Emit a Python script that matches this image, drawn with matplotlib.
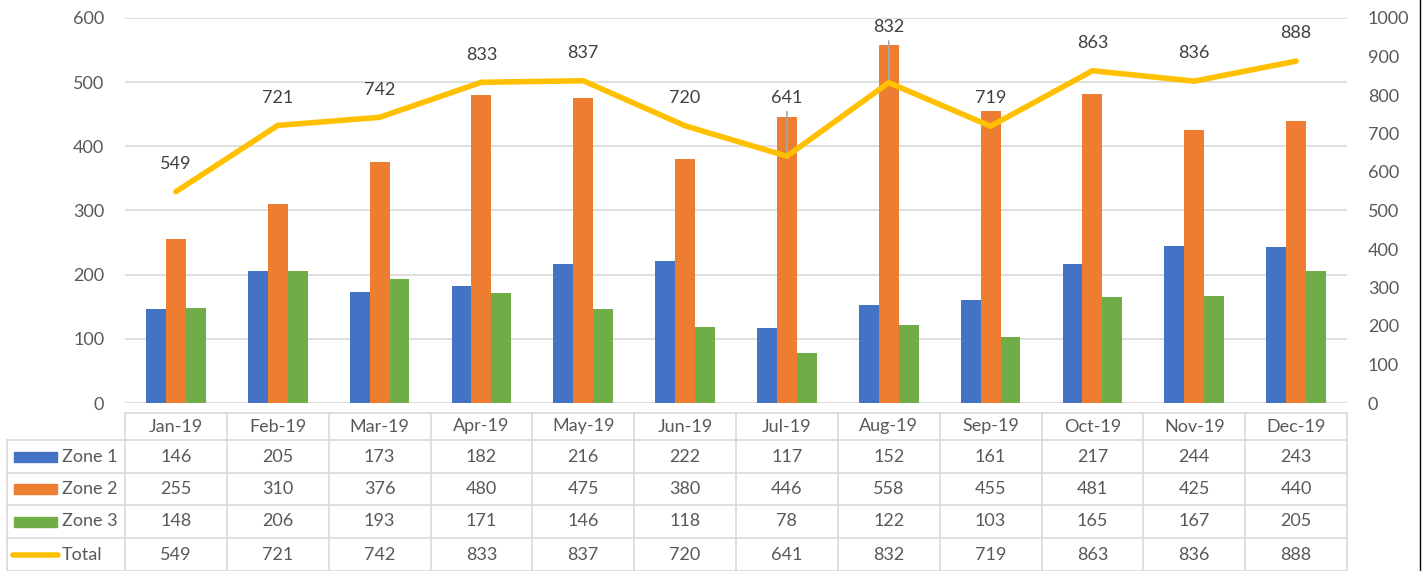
import numpy as np
import matplotlib.pyplot as plt
from matplotlib.lines import Line2D

months = ['Jan-19', 'Feb-19', 'Mar-19', 'Apr-19', 'May-19', 'Jun-19',
          'Jul-19', 'Aug-19', 'Sep-19', 'Oct-19', 'Nov-19', 'Dec-19']
zone1 = [146, 205, 173, 182, 216, 222, 117, 152, 161, 217, 244, 243]
zone2 = [255, 310, 376, 480, 475, 380, 446, 558, 455, 481, 425, 440]
zone3 = [148, 206, 193, 171, 146, 118, 78, 122, 103, 165, 167, 205]
total = [549, 721, 742, 833, 837, 720, 641, 832, 719, 863, 836, 888]

c_blue = '#4472C4'
c_orange = '#ED7D31'
c_green = '#70AD47'
c_gold = '#FFC000'
txt = '#595959'
grid = '#D9D9D9'

plt.rcParams['font.family'] = ['Lato', 'DejaVu Sans']

W, H = 1423, 571
fig = plt.figure(figsize=(W / 100, H / 100), dpi=100)

# plot area in pixels
px_l, px_r, px_t, px_b = 125, 1347, 18, 403
ax = fig.add_axes([px_l / W, 1 - px_b / H, (px_r - px_l) / W, (px_b - px_t) / H])
ax2 = ax.twinx()

x = np.arange(len(months))
bw = 0.195
ax.bar(x - bw, zone1, bw, color=c_blue, zorder=3)
ax.bar(x, zone2, bw, color=c_orange, zorder=3)
ax.bar(x + bw, zone3, bw, color=c_green, zorder=3)

ax.set_xlim(-0.5, len(months) - 0.5)
ax.set_ylim(0, 600)
ax.set_yticks(range(0, 601, 100))
ax.yaxis.grid(True, color=grid, lw=1.2, zorder=0)
ax.set_axisbelow(True)
ax.set_xticks([])
ax.tick_params(axis='y', length=0, pad=15, labelsize=13, labelcolor=txt)

ax2.plot(x, total, color=c_gold, lw=4, solid_capstyle='round', solid_joinstyle='miter', zorder=5)
ax2.set_ylim(0, 1000)
ax2.set_yticks(range(0, 1001, 100))
ax2.tick_params(axis='y', length=0, pad=15, labelsize=13, labelcolor=txt)

for a in (ax, ax2):
    for s in a.spines.values():
        s.set_visible(False)

# data labels (Jul and Aug pulled up with leader lines)
lift = {6: 42, 7: 40}
for i, v in enumerate(total):
    dy = lift.get(i, 20)
    ax2.annotate(str(v), (i, v), xytext=(0, dy), textcoords='offset points',
                 ha='center', va='center', fontsize=13, color='#404040', zorder=6)
    if i in lift:
        ax2.annotate('', (i, v), xytext=(0, dy - 10), textcoords='offset points',
                     arrowprops=dict(arrowstyle='-', color='#A6A6A6', lw=1.2,
                                     shrinkA=0, shrinkB=0), zorder=4)

# data table drawn in pixel coordinates
tb = fig.add_axes([0, 0, 1, 1], zorder=-1)
tb.set_xlim(0, W)
tb.set_ylim(H, 0)
tb.axis('off')

colw = (px_r - px_l) / len(months)
rows_y = [413, 440, 473, 505, 538, 571]
lab_x0 = 7
lk = dict(color=grid, lw=1.2)

# header row
tb.plot([px_l, px_r], [rows_y[0], rows_y[0]], **lk)
for r in rows_y[1:]:
    tb.plot([lab_x0, px_r], [r, r], **lk)
for j in range(len(months) + 1):
    xx = px_l + j * colw
    tb.plot([xx, xx], [rows_y[0], rows_y[-1]], **lk)
tb.plot([lab_x0, lab_x0], [rows_y[1], rows_y[-1]], **lk)

for j, m in enumerate(months):
    tb.text(px_l + (j + 0.5) * colw, (rows_y[0] + rows_y[1]) / 2, m,
            ha='center', va='center', fontsize=13, color=txt)

series = [('Zone 1', zone1, c_blue), ('Zone 2', zone2, c_orange),
          ('Zone 3', zone3, c_green), ('Total', total, c_gold)]
for k, (name, vals, col) in enumerate(series):
    yc = (rows_y[k + 1] + rows_y[k + 2]) / 2
    if name == 'Total':
        tb.plot([13, 58], [yc, yc], color=col, lw=4, solid_capstyle='round')
    else:
        tb.add_patch(plt.Rectangle((14, yc - 5), 43, 10, color=col))
    tb.text(62, yc, name, ha='left', va='center', fontsize=13, color=txt)
    for j, v in enumerate(vals):
        tb.text(px_l + (j + 0.5) * colw, yc, str(v), ha='center', va='center',
                fontsize=13, color=txt)

# screenshot border on the right
fig.add_artist(Line2D([1419.5 / W, 1419.5 / W], [0, 1], color='black', lw=1))

fig.savefig('out.png', dpi=100)
